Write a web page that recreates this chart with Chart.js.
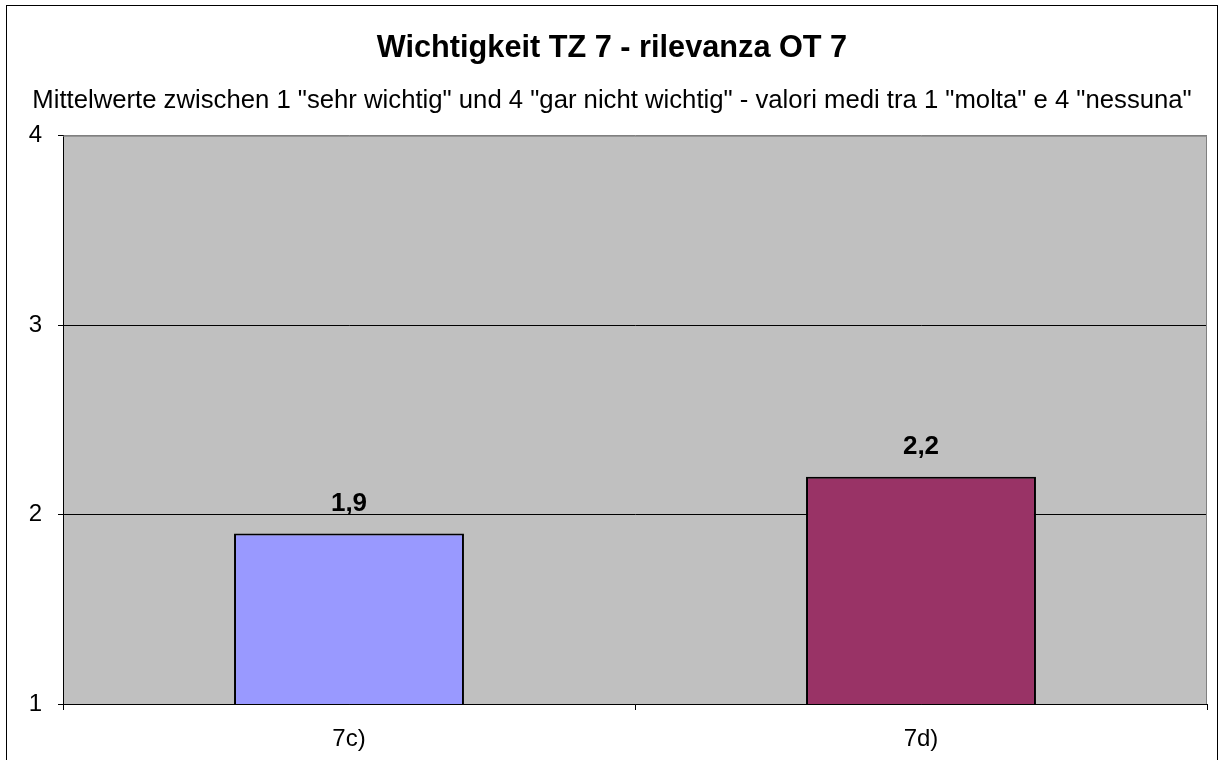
<!DOCTYPE html>
<html>
<head>
<meta charset="utf-8">
<script src="https://cdn.jsdelivr.net/npm/chart.js@4.4.1/dist/chart.umd.min.js"></script>
<style>
  html, body { margin: 0; padding: 0; background: #fff; }
  #wrap { width: 1224px; height: 760px; position: relative; }
</style>
</head>
<body>
<div id="wrap"><canvas id="chart"></canvas></div>
<script>
// Mittelwerte TZ 7
const categories = ['7c)', '7d)'];
const values     = [1.9, 2.2];
const barColors  = ['#9999FF', '#993366'];
const yTicks     = [1, 2, 3, 4];

const FONT = "'Liberation Sans', Arial, sans-serif";

// weißer Hintergrund + Rahmen, graue Plotfläche
const frame = {
    id: 'frame',
    beforeDraw(chart) {
        const { ctx, chartArea: a } = chart;
        ctx.save();
        ctx.fillStyle = '#fff';
        ctx.fillRect(0, 0, chart.width, chart.height);
        ctx.strokeStyle = '#000';
        ctx.lineWidth = 1;
        ctx.strokeRect(6.5, 5.5, 1211, 800);
        ctx.fillStyle = '#C0C0C0';
        ctx.fillRect(a.left, a.top, a.right - a.left, a.bottom - a.top);
        ctx.restore();
    },
    afterDatasetsDraw(chart) {
        const { ctx, chartArea: a } = chart;
        ctx.save();
        ctx.strokeStyle = '#808080';
        ctx.lineWidth = 1;
        ctx.beginPath();
        ctx.moveTo(a.left, a.top + 0.5);
        ctx.lineTo(a.right - 0.5, a.top + 0.5);
        ctx.lineTo(a.right - 0.5, a.bottom);
        ctx.stroke();
        // Werte über den Balken
        ctx.fillStyle = '#000';
        ctx.font = 'bold 26px ' + FONT;
        ctx.textAlign = 'center';
        ctx.textBaseline = 'middle';
        chart.getDatasetMeta(0).data.forEach((bar, i) => {
            ctx.fillText(String(values[i]).replace('.', ','), bar.x, bar.y - 30);
        });
        ctx.restore();
    },
};

new Chart(document.getElementById('chart'), {
    type: 'bar',
    data: {
        labels: categories,
        datasets: [{
            data: values,
            backgroundColor: barColors,
            borderColor: '#000',
            borderWidth: 2,
            borderSkipped: false,
            categoryPercentage: 1,
            barPercentage: 0.402,
        }],
    },
    options: {
        responsive: true,
        maintainAspectRatio: false,
        animation: false,
        layout: { padding: { left: 17, right: 17, top: 0, bottom: 0 } },
        plugins: {
            legend: { display: false },
            tooltip: { enabled: false },
            title: {
                display: true,
                text: 'Wichtigkeit TZ 7 - rilevanza OT 7',
                color: '#000',
                font: { family: FONT, size: 30.7, weight: 'bold' },
                padding: { top: 30, bottom: 9 },
            },
            subtitle: {
                display: true,
                text: 'Mittelwerte zwischen 1 "sehr wichtig" und 4 "gar nicht wichtig" - valori medi tra 1 "molta" e 4 "nessuna"',
                color: '#000',
                font: { family: FONT, size: 25.7 },
                padding: { top: 9.2, bottom: 19.8 },
            },
        },
        scales: {
            x: {
                grid: { drawOnChartArea: false, drawTicks: true, tickLength: 6, color: '#000' },
                border: { color: '#000', width: 1 },
                ticks: { color: '#000', font: { family: FONT, size: 24 }, padding: 15 },
                afterFit(scale) { scale.height = 56; },
            },
            y: {
                min: 1,
                max: 4,
                afterBuildTicks(scale) { scale.ticks = yTicks.map((v) => ({ value: v })); },
                grid: {
                    color: (c) => (c.tick && c.tick.value === 4 ? '#808080' : '#000'),
                    tickColor: '#000',
                    tickLength: 5,
                },
                border: { color: '#000', width: 1 },
                ticks: { color: '#000', font: { family: FONT, size: 24 }, padding: 16 },
                afterFit(scale) { scale.width = 46; },
            },
        },
    },
    plugins: [frame],
});
</script>
</body>
</html>
